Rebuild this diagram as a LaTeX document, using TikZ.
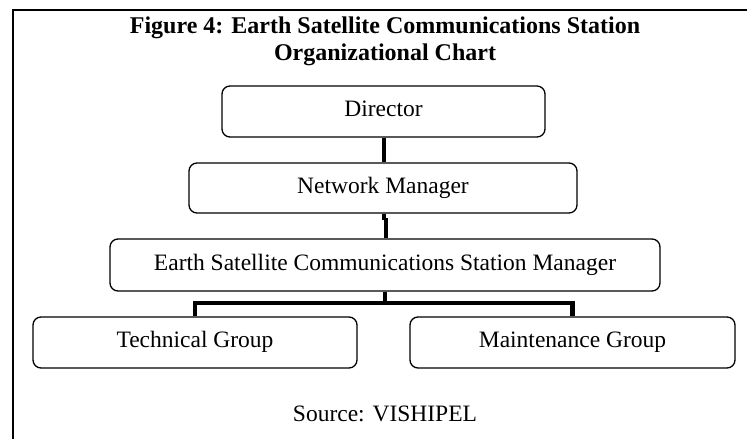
\documentclass[tikz,border=0pt]{standalone}
\usepackage{fontspec}
\setmainfont{Liberation Serif}
\begin{document}
\begin{tikzpicture}[x=1pt,y=-1pt,
  box/.style={draw, rounded corners=8pt, line width=1.3pt, minimum height=51pt, inner sep=0pt,
    text height=1em, text depth=0pt, font=\fontsize{23.5}{25}\selectfont},
  conn/.style={line width=4.5pt},
  frame/.style={line width=2pt},
  ttl/.style={font=\bfseries\fontsize{24}{26}\selectfont, inner sep=0pt, anchor=base}]
\useasboundingbox (0,0) rectangle (747,439);
\coordinate (fb) at (12.5,439);
\coordinate (ft) at (12.5,10);
\coordinate (fr) at (747,10);
\draw[frame] (fb) -- (ft) -- (fr);
\node[ttl] (t1) at (385,33) {Figure 4: Earth Satellite Communications Station};
\node[ttl] (t2) at (385,60) {Organizational Chart};
\node[box, minimum width=323pt] (dir) at (383.5,111.5) {Director};
\node[box, minimum width=388pt, minimum height=50pt] (net) at (383,188) {Network Manager};
\node[box, minimum width=550pt, minimum height=52pt] (esm) at (385,265) {Earth Satellite Communications Station Manager};
\node[box, minimum width=324pt] (tech) at (195,342.5) {Technical Group};
\node[box, minimum width=325pt] (mnt) at (572.5,342.5) {Maintenance Group};
\coordinate (k1) at (384,220);
\coordinate (k2) at (386,218);
\coordinate (j) at (385,303);
\draw[conn] (dir.south -| 384,0) -- (net.north -| 384,0);
\draw[conn] (net.south -| 384,0) -- (k1);
\draw[conn] (k2) -- (esm.north -| k2);
\draw[conn] (esm.south) -- (j);
\draw[conn] (tech.north) |- (j) -| (mnt.north);
\node[font=\fontsize{23.5}{25}\selectfont, inner sep=0pt, anchor=base] (src) at (385,421) {Source: VISHIPEL};
\end{tikzpicture}
\end{document}
